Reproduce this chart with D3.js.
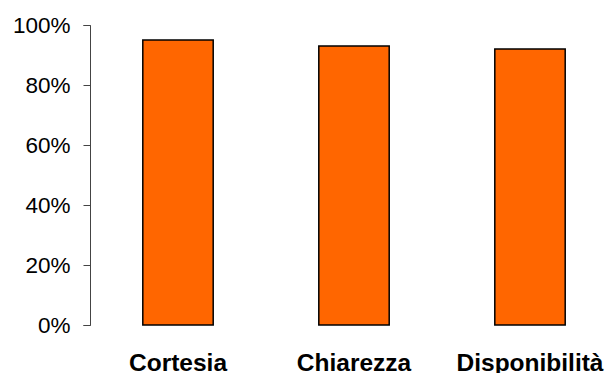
<!DOCTYPE html>
<html><head><meta charset="utf-8">
<script src="https://cdn.jsdelivr.net/npm/d3@7"></script>
<style>body{margin:0;background:#fff}svg{display:block}</style>
</head><body>
<script>
const categories = ["Cortesia", "Chiarezza", "Disponibilità"];
const values = [0.95, 0.93, 0.92];
const yTicks = [0, 0.2, 0.4, 0.6, 0.8, 1.0];

const W = 608, H = 373;
const svg = d3.select("body").append("svg").attr("width", W).attr("height", H);

const y = d3.scaleLinear().domain([0, 1]).range([325, 25]);
const x = d3.scaleBand().domain(categories).range([90, 618]).paddingInner(0.6).paddingOuter(0.3);

// bars
svg.append("g").selectAll("rect").data(values).join("rect")
  .attr("x", (d, i) => x(categories[i]))
  .attr("y", d => y(d))
  .attr("width", x.bandwidth())
  .attr("height", d => y(0) - y(d))
  .attr("fill", "#FF6600")
  .attr("stroke", "#000")
  .attr("stroke-width", 1.5);

// y axis
const yAxis = d3.axisLeft(y).tickValues(yTicks).tickSize(7).tickPadding(13)
  .tickFormat(d3.format(".0%"));
const gy = svg.append("g").attr("transform", "translate(90.5,0)").call(yAxis);
gy.select(".domain").attr("stroke", "#444").attr("d", "M-7,25.5H0V325.5H-7");
gy.selectAll(".tick line").attr("stroke", "#444");
gy.selectAll(".tick text").attr("font-family", "Arial, 'Liberation Sans', sans-serif")
  .attr("font-size", 22.5).attr("fill", "#000");

// x labels
const xAxis = d3.axisBottom(x).tickSize(0).tickPadding(0);
const gx = svg.append("g").attr("transform", "translate(0,350)").call(xAxis);
gx.select(".domain").remove();
gx.selectAll(".tick text").attr("font-family", "Arial, 'Liberation Sans', sans-serif")
  .attr("font-size", 24.5).attr("font-weight", "bold").attr("fill", "#000")
  .attr("dy", 0).attr("y", 21);
</script>
</body></html>
